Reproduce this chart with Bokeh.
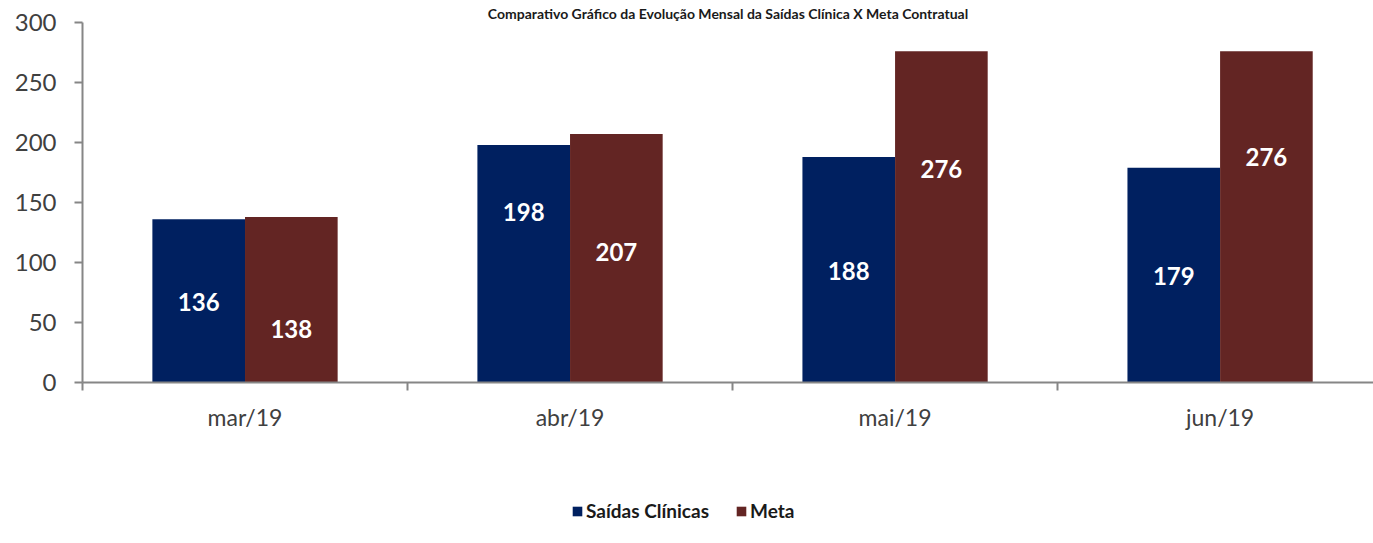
from bokeh.plotting import figure
from bokeh.layouts import column
from bokeh.models import Range1d, FixedTicker, Legend, LegendItem, ColumnDataSource
from bokeh.embed import file_html
from bokeh.resources import INLINE
from bokeh.core.properties import value

# ---- data ----
months = ["mar/19", "abr/19", "mai/19", "jun/19"]
saidas = [136, 198, 188, 179]
meta = [138, 207, 276, 276]
y_ticks = [0, 50, 100, 150, 200, 250, 300]
series_names = ["Saídas Clínicas", "Meta"]
title_text = "Comparativo Gráfico da Evolução Mensal da Saídas Clínica X Meta Contratual"

# ---- layout (label anchor heights, in data units) ----
saidas_label_y = [67, 142, 93, 89]
meta_label_y = [45, 109, 178, 188]

BLUE = "#002060"
RED = "#632523"
AXIS = "#868686"
TXT = "#404040"
FONT = "Lato"

W = 1373
H_MAIN = 450
H_LEG = 93
bw = 0.285
centers = [i + 0.5 for i in range(len(months))]

src = ColumnDataSource(dict(
    xb=[c - bw / 2 for c in centers],
    xr=[c + bw / 2 for c in centers],
    saidas=saidas, meta=meta,
    sl=[str(v) for v in saidas], ml=[str(v) for v in meta],
    sy=saidas_label_y, my=meta_label_y,
))

p = figure(width=W, height=H_MAIN, x_range=Range1d(0, 3.972), y_range=Range1d(0, 300),
           output_backend="svg", toolbar_location=None, title=title_text,
           min_border_left=82, min_border_right=0, min_border_top=22,
           min_border_bottom=H_MAIN - 382)
p.outline_line_color = None
p.xgrid.visible = False
p.ygrid.visible = False
p.title.align = "center"
p.title.text_font = FONT
p.title.text_font_style = "bold"
p.title.text_font_size = "14px"
p.title.text_color = "#1a1a1a"
p.title.standoff = 2
p.title.offset = 0

r1 = p.vbar(x="xb", top="saidas", bottom=0, width=bw, source=src, fill_color=BLUE, line_color=None)
r2 = p.vbar(x="xr", top="meta", bottom=0, width=bw, source=src, fill_color=RED, line_color=None)

for xc, yc, tc in (("xb", "sy", "sl"), ("xr", "my", "ml")):
    p.text(x=xc, y=yc, text=tc, source=src, text_align="center", text_baseline="middle",
           text_color="white", text_font=value(FONT), text_font_style="bold", text_font_size="24px")

# y axis
ya = p.yaxis[0]
ya.ticker = FixedTicker(ticks=y_ticks, minor_ticks=[])
ya.axis_line_color = AXIS
ya.axis_line_width = 2
ya.major_tick_line_color = AXIS
ya.major_tick_line_width = 2
ya.major_tick_out = 8
ya.major_tick_in = 0
ya.major_label_standoff = 18
ya.major_label_text_font = FONT
ya.major_label_text_font_size = "24px"
ya.major_label_text_color = TXT

# x axis
xa = p.xaxis[0]
xa.ticker = FixedTicker(ticks=centers, minor_ticks=[float(i) for i in range(len(months) + 1)])
xa.major_label_overrides = {c: m for c, m in zip(centers, months)}
xa.axis_line_color = AXIS
xa.axis_line_width = 2
xa.major_tick_line_color = None
xa.major_tick_out = 0
xa.major_tick_in = 0
xa.minor_tick_line_color = AXIS
xa.minor_tick_line_width = 2
xa.minor_tick_out = 8
xa.minor_tick_in = 0
xa.major_label_standoff = 12
xa.major_label_text_font = FONT
xa.major_label_text_font_size = "23px"
xa.major_label_text_color = TXT

# ---- legend strip (frame aligned with the main plot by the column) ----
pl = figure(width=W, height=H_LEG, x_range=Range1d(0, 1), y_range=Range1d(0, 1),
            output_backend="svg", toolbar_location=None,
            x_axis_location=None, y_axis_location=None,
            min_border_left=82, min_border_right=0, min_border_top=0, min_border_bottom=0)
pl.outline_line_color = None
pl.xgrid.visible = False
pl.ygrid.visible = False
# zero-height legend proxies (nothing visible is drawn by them)
lr1 = pl.vbar(x=[-1], top=[0], bottom=[0], width=0.1, fill_color=BLUE, line_color=None)
lr2 = pl.vbar(x=[-1], top=[0], bottom=[0], width=0.1, fill_color=RED, line_color=None)
legend = Legend(items=[LegendItem(label=series_names[0], renderers=[lr1]),
                       LegendItem(label=series_names[1], renderers=[lr2])],
                orientation="horizontal", location=(489, 21),
                glyph_width=12, glyph_height=12, spacing=26, label_standoff=3,
                label_text_font=FONT, label_text_font_style="bold", label_text_font_size="19px",
                label_text_color="#1a1a1a", border_line_color=None, background_fill_alpha=0,
                padding=0, margin=0)
pl.add_layout(legend, "center")

layout = column(p, pl, spacing=0)
open("out.html", "w").write(file_html(layout, INLINE))
